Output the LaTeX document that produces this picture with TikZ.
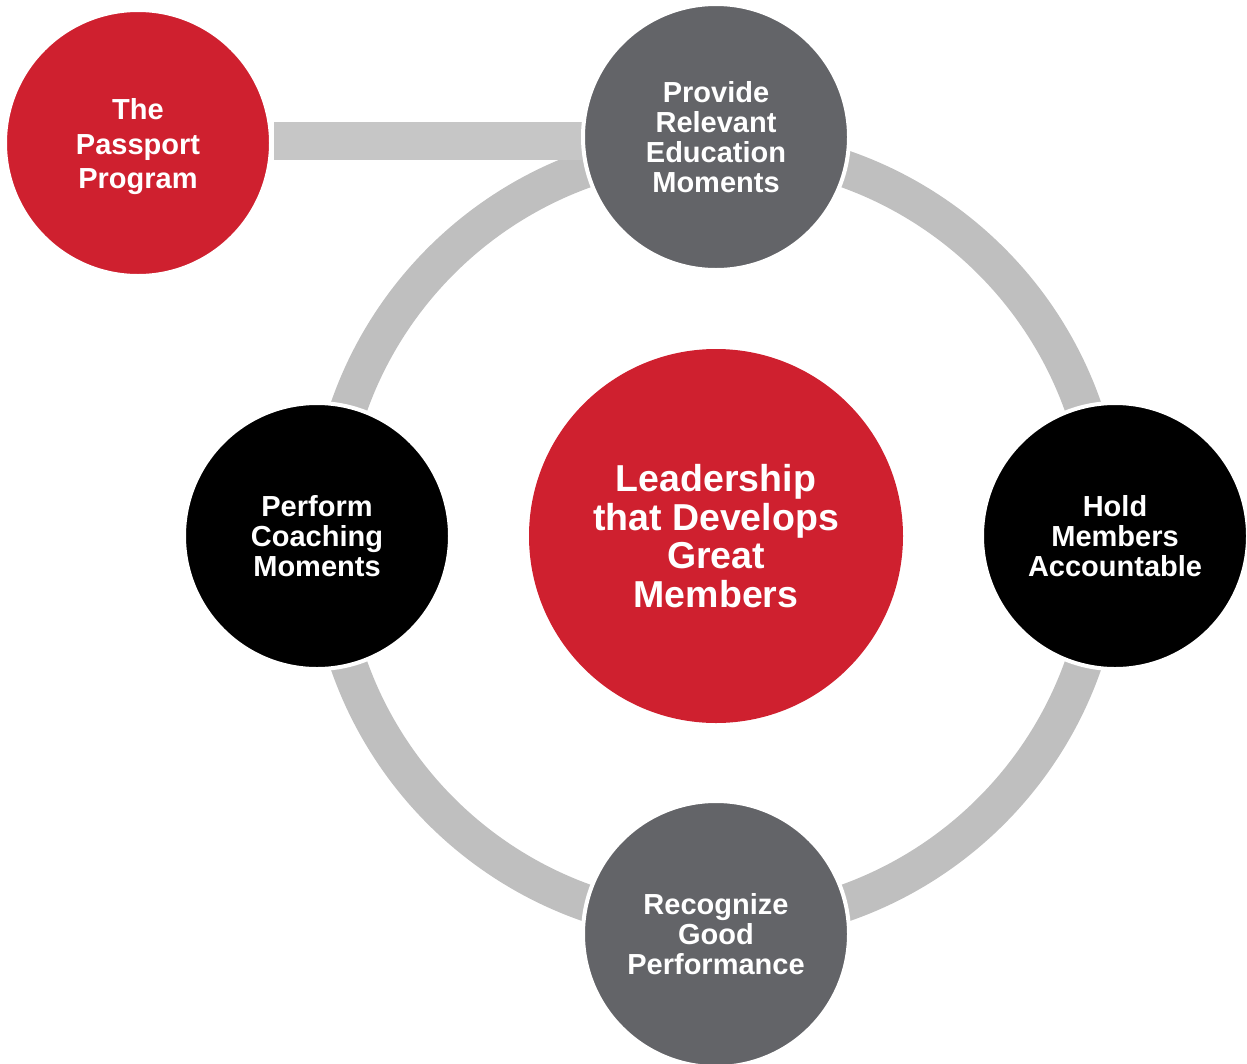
\documentclass[tikz,border=0pt]{standalone}
\usepackage{fontspec}
\setmainfont{Liberation Sans}
\definecolor{cred}{HTML}{CF202F}
\definecolor{cdark}{HTML}{636468}
\definecolor{cring}{HTML}{BFBFBF}
\definecolor{cbar}{HTML}{C6C6C6}
\begin{document}
\begin{tikzpicture}[x=1pt,y=-1pt,
  small/.style={circle,minimum size=266pt,inner sep=0pt,draw=white,line width=4pt,
    text=white,align=center,font=\bfseries\fontsize{29}{30}\selectfont},
  big/.style={circle,minimum size=374pt,inner sep=0pt,fill=cred,
    text=white,align=center,font=\bfseries\fontsize{37.5}{38.5}\selectfont},
  ringline/.style={draw=cring,line width=37pt},
  barline/.style={draw=cbar,line width=38pt}]
\useasboundingbox (0,0) rectangle (1247,1063);
\coordinate (ringc) at (716,536);
\draw[ringline] (ringc) circle[radius=389pt];
\coordinate (barA) at (274,141);
\coordinate (barB) at (590,141);
\draw[barline] (barA) -- (barB);
\node[small,fill=cred,font=\bfseries\fontsize{29}{34.5}\selectfont] (pass) at (138,143) {\rule{0pt}{29pt}The\\Passport\\Program};
\node[small,fill=cdark] (prov) at (716,137) {Provide\\Relevant\\Education\\Moments};
\node[small,fill=black] (hold) at (1115,536) {Hold\\Members\\Accountable};
\node[small,fill=cdark] (reco) at (716,934) {Recognize\\Good\\Performance};
\node[small,fill=black] (perf) at (317,536) {Perform\\Coaching\\Moments};
\node[big] (lead) at (716,536) {Leadership\\that Develops\\Great\\Members};
\end{tikzpicture}
\end{document}
